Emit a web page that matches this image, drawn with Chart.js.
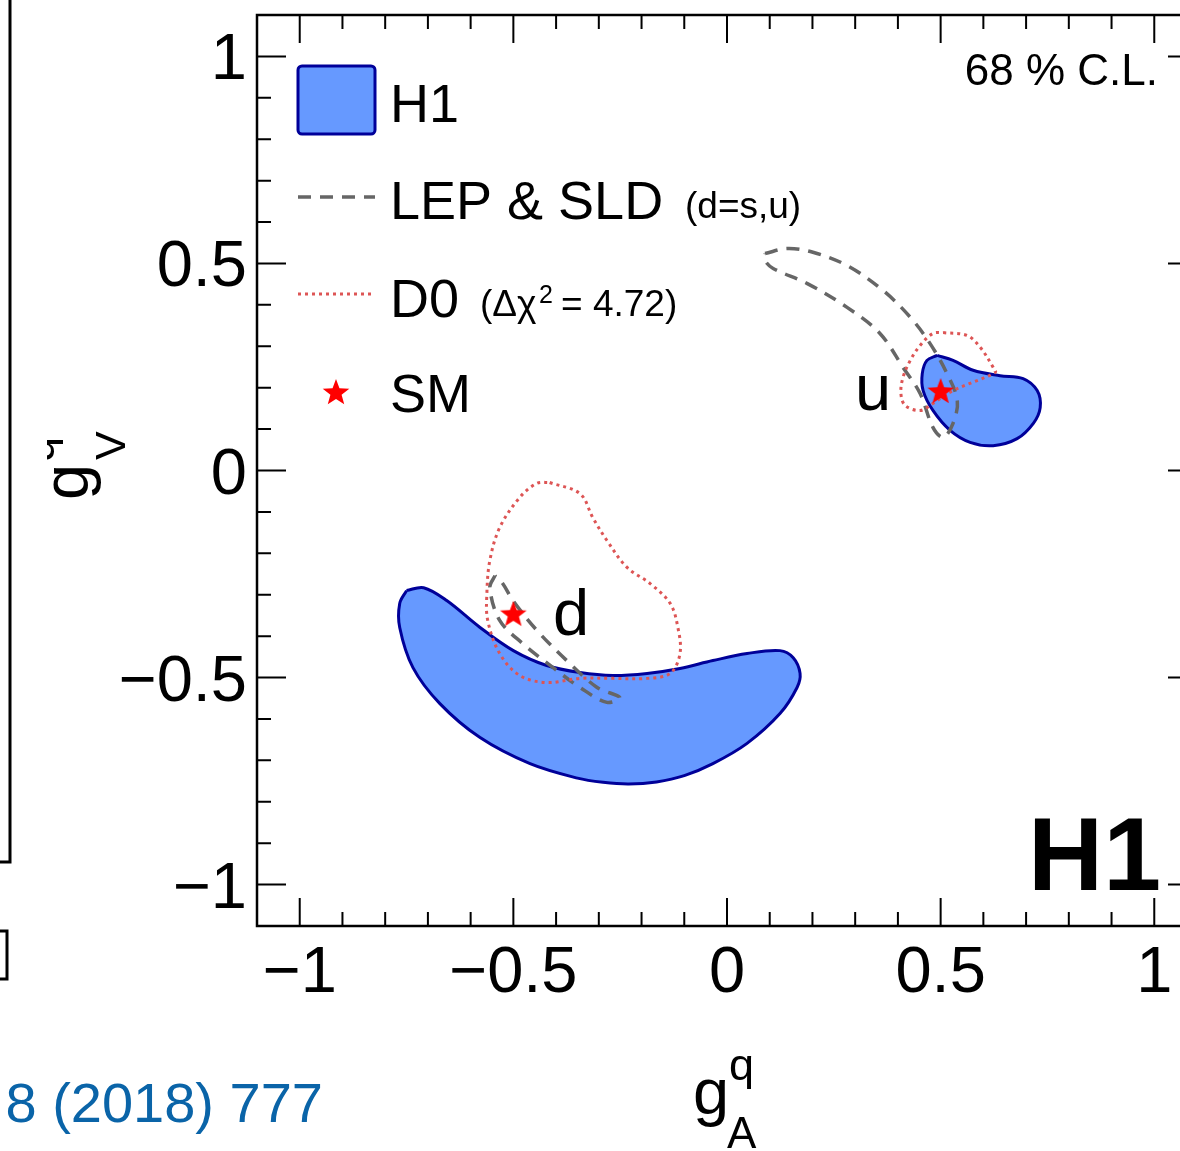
<!DOCTYPE html>
<html><head><meta charset="utf-8">
<script src="https://cdn.jsdelivr.net/npm/chart.js@4.4.1/dist/chart.umd.min.js"></script>
<style>html,body{margin:0;padding:0;background:#fff;overflow:hidden}#wrap{position:relative;width:1180px;height:1151px;overflow:hidden;background:#fff}canvas{position:absolute;left:0;top:0}</style>
</head><body><div id="wrap"><canvas id="c" width="1240" height="1151" style="width:1240px;height:1151px"></canvas></div>
<script>
// ---- data (g_A^q, g_V^q) contours ----
const h1D = [[-0.75,-0.29],[-0.71,-0.283],[-0.656,-0.314],[-0.578,-0.379],[-0.50,-0.435],[-0.422,-0.471],[-0.344,-0.488],[-0.267,-0.495],[-0.187,-0.49],[-0.11,-0.478],[-0.033,-0.459],[0.047,-0.442],[0.124,-0.435],[0.155,-0.452],[0.171,-0.49],[0.164,-0.524],[0.124,-0.587],[0.047,-0.659],[-0.033,-0.708],[-0.10,-0.737],[-0.165,-0.752],[-0.23,-0.757],[-0.29,-0.753],[-0.35,-0.743],[-0.461,-0.708],[-0.578,-0.645],[-0.672,-0.563],[-0.735,-0.476],[-0.766,-0.379],[-0.766,-0.321],[-0.75,-0.29]];
const h1U = [[0.492,0.278],[0.529,0.266],[0.576,0.242],[0.639,0.229],[0.693,0.222],[0.726,0.193],[0.733,0.152],[0.717,0.114],[0.679,0.077],[0.623,0.060],[0.569,0.068],[0.522,0.097],[0.482,0.145],[0.459,0.193],[0.457,0.234],[0.468,0.266],[0.492,0.278]];
const lepD = [[-0.543,-0.254],[-0.555,-0.283],[-0.532,-0.362],[-0.478,-0.418],[-0.407,-0.476],[-0.344,-0.524],[-0.281,-0.56],[-0.251,-0.548],[-0.304,-0.524],[-0.375,-0.459],[-0.445,-0.386],[-0.501,-0.314],[-0.525,-0.273],[-0.543,-0.254]];
const lepU = [[0.089,0.524],[0.141,0.536],[0.201,0.527],[0.281,0.495],[0.365,0.435],[0.429,0.37],[0.475,0.307],[0.515,0.234],[0.539,0.169],[0.529,0.114],[0.506,0.080],[0.482,0.104],[0.452,0.186],[0.412,0.249],[0.358,0.331],[0.281,0.394],[0.187,0.452],[0.108,0.488],[0.089,0.507],[0.089,0.524]];
const d0D = [[-0.415,-0.029],[-0.344,-0.056],[-0.314,-0.114],[-0.281,-0.169],[-0.234,-0.234],[-0.18,-0.273],[-0.133,-0.321],[-0.115,-0.379],[-0.11,-0.442],[-0.133,-0.49],[-0.187,-0.502],[-0.267,-0.502],[-0.344,-0.502],[-0.422,-0.512],[-0.485,-0.495],[-0.532,-0.442],[-0.56,-0.362],[-0.562,-0.297],[-0.555,-0.217],[-0.532,-0.138],[-0.485,-0.065],[-0.445,-0.031],[-0.415,-0.029]];
const d0U = [[0.506,0.333],[0.562,0.326],[0.593,0.297],[0.623,0.249],[0.628,0.237],[0.529,0.193],[0.482,0.162],[0.452,0.145],[0.417,0.157],[0.407,0.186],[0.412,0.225],[0.429,0.266],[0.452,0.302],[0.482,0.331],[0.506,0.333]];
const smPoints = [[-0.5,-0.346],[0.5,0.192]];
const quarkLabels = ["u","d"];
const xTickValues = [-1,-0.5,0,0.5,1];
const xTickLabels = ["\u22121","\u22120.5","0","0.5","1"];
const yTickValues = [-1,-0.5,0,0.5,1];
const yTickLabels = ["\u22121","\u22120.5","0","0.5","1"];
const legendLabels = ["H1","LEP & SLD","D0","SM"];

const FONT = "'Liberation Sans', Arial, Helvetica, sans-serif";
const toXY = a => a.map(p => ({x:p[0], y:p[1]}));

// filled red star for SM points
function makeStar(r){
  const c = document.createElement('canvas'); const s = Math.ceil(r*2+2);
  c.width = s; c.height = s; const g = c.getContext('2d');
  g.fillStyle = '#ff0000'; g.beginPath();
  for(let i=0;i<10;i++){
    const rr = i%2===0 ? r : r*0.42;
    const a = -Math.PI/2 + i*Math.PI/5;
    const px = s/2 + rr*Math.cos(a), py = s/2 + 1 + rr*Math.sin(a);
    i===0 ? g.moveTo(px,py) : g.lineTo(px,py);
  }
  g.closePath(); g.fill(); return c;
}
const starImg = makeStar(14);

const BLUE_FILL = '#6699ff', BLUE_LINE = '#000099', GREY = '#666666', RED_DOT = '#dd5555';

function h1Set(pts){ return {data:toXY(pts), showLine:true, fill:'shape', backgroundColor:BLUE_FILL, borderColor:BLUE_LINE, borderWidth:3, pointRadius:0, tension:0.35, order:3}; }
function lepSet(pts){ return {data:toXY(pts), showLine:true, fill:false, borderColor:GREY, borderWidth:3.5, borderDash:[13,9], pointRadius:0, tension:0.35, order:2}; }
function d0Set(pts){ return {data:toXY(pts), showLine:true, fill:false, borderColor:RED_DOT, borderWidth:3, borderDash:[3,4], pointRadius:0, tension:0.35, order:1}; }

const decor = {
  id:'decor',
  afterDraw(chart){
    const ctx = chart.ctx, xs = chart.scales.x, ys = chart.scales.y, a = chart.chartArea;
    ctx.save();
    ctx.strokeStyle = '#000'; ctx.fillStyle = '#000';
    // frame
    ctx.lineWidth = 2.5; ctx.setLineDash([]);
    ctx.strokeRect(a.left, a.top, a.right - a.left, a.bottom - a.top);
    // inward ticks
    ctx.lineWidth = 2;
    ctx.beginPath();
    for(let i=-10;i<=10;i++){
      const v = i/10, major = (i%5===0);
      const px = xs.getPixelForValue(v), py = ys.getPixelForValue(v);
      const Lx = major ? 28 : 14, Ly = major ? 29 : 14;
      ctx.moveTo(px, a.bottom); ctx.lineTo(px, a.bottom - Lx);
      ctx.moveTo(px, a.top); ctx.lineTo(px, a.top + Lx);
      ctx.moveTo(a.left, py); ctx.lineTo(a.left + Ly, py);
      ctx.moveTo(a.right, py); ctx.lineTo(a.right - Ly, py);
    }
    ctx.stroke();
    // tick labels
    ctx.font = '65px ' + FONT;
    ctx.textBaseline = 'alphabetic';
    ctx.textAlign = 'right';
    yTickValues.forEach((v,i)=>{ ctx.fillText(yTickLabels[i], 247, ys.getPixelForValue(v) + 23); });
    ctx.textAlign = 'center';
    xTickValues.forEach((v,i)=>{ ctx.fillText(xTickLabels[i], xs.getPixelForValue(v), 992); });
    // x axis title g_A^q
    ctx.textAlign = 'left';
    ctx.font = '65px ' + FONT; ctx.fillText('g', 693, 1114);
    ctx.font = '45px ' + FONT; ctx.fillText('q', 729, 1080);
    ctx.font = '44px ' + FONT; ctx.fillText('A', 727, 1148);
    // y axis title g_V^q (rotated, partly hidden at left like the reference)
    ctx.save();
    ctx.beginPath(); ctx.rect(47, 300, 200, 300); ctx.clip();
    ctx.translate(88, 500); ctx.rotate(-Math.PI/2);
    ctx.font = '65px ' + FONT; ctx.fillText('g', 0, 0);
    ctx.font = '45px ' + FONT; ctx.fillText('q', 38, -34);
    ctx.font = '43px ' + FONT; ctx.fillText('V', 40, 37);
    ctx.restore();
    // legend
    ctx.lineWidth = 3;
    ctx.fillStyle = BLUE_FILL; ctx.strokeStyle = BLUE_LINE;
    ctx.beginPath(); ctx.roundRect(298, 66, 77, 68, 4); ctx.fill(); ctx.stroke();
    ctx.strokeStyle = GREY; ctx.lineWidth = 3.5; ctx.setLineDash([13,9]);
    ctx.beginPath(); ctx.moveTo(298,197); ctx.lineTo(375,197); ctx.stroke();
    ctx.strokeStyle = RED_DOT; ctx.lineWidth = 3; ctx.setLineDash([3,4]);
    ctx.beginPath(); ctx.moveTo(298,294); ctx.lineTo(375,294); ctx.stroke();
    ctx.setLineDash([]);
    ctx.drawImage(starImg, 336 - starImg.width/2, 392 - starImg.height/2);
    ctx.fillStyle = '#000'; ctx.textAlign = 'left';
    ctx.font = '54px ' + FONT;
    ctx.fillText(legendLabels[0], 390, 122);
    ctx.fillText(legendLabels[1], 390, 219);
    ctx.fillText(legendLabels[2], 390, 317);
    ctx.fillText(legendLabels[3], 390, 412);
    ctx.font = '37px ' + FONT;
    ctx.fillText('(d=s,u)', 685, 218);
    ctx.fillText('(\u0394\u03c7', 480, 316);
    ctx.font = '25px ' + FONT; ctx.fillText('2', 539, 303);
    ctx.font = '37px ' + FONT; ctx.fillText('= 4.72)', 561, 316);
    // annotations
    ctx.font = '44px ' + FONT; ctx.textAlign = 'right';
    ctx.fillText('68 % C.L.', 1158, 85);
    ctx.font = 'bold 104px ' + FONT;
    ctx.fillText('H1', 1161, 890);
    ctx.textAlign = 'left'; ctx.font = '65px ' + FONT;
    ctx.fillText(quarkLabels[0], 855, 410);
    ctx.fillText(quarkLabels[1], 553, 635);
    // remnants of neighbouring panel + citation
    ctx.strokeStyle = '#000'; ctx.lineWidth = 3;
    ctx.beginPath(); ctx.moveTo(10,0); ctx.lineTo(10,862); ctx.lineTo(0,862); ctx.stroke();
    ctx.beginPath(); ctx.moveTo(0,931); ctx.lineTo(7,931); ctx.lineTo(7,979); ctx.lineTo(0,979); ctx.stroke();
    ctx.fillStyle = '#0a64a8'; ctx.font = '56px ' + FONT; ctx.textAlign = 'right';
    ctx.fillText('8 (2018) 777', 323, 1122);
    ctx.restore();
  }
};

new Chart(document.getElementById('c').getContext('2d'), {
  type:'scatter',
  data:{datasets:[
    {data:toXY(smPoints), pointStyle:starImg, pointRadius:14, showLine:false, order:0},
    d0Set(d0U), d0Set(d0D),
    lepSet(lepU), lepSet(lepD),
    h1Set(h1U), h1Set(h1D)
  ]},
  options:{
    responsive:false, animation:false, devicePixelRatio:1,
    layout:{padding:{left:249, top:15, right:43, bottom:217}},
    scales:{
      x:{type:'linear', min:-1.1, max:1.1, ticks:{display:false}, grid:{display:false}, border:{display:false}},
      y:{type:'linear', min:-1.1, max:1.1, ticks:{display:false}, grid:{display:false}, border:{display:false}}
    },
    plugins:{legend:{display:false}, tooltip:{enabled:false}}
  },
  plugins:[decor]
});
</script></body></html>
